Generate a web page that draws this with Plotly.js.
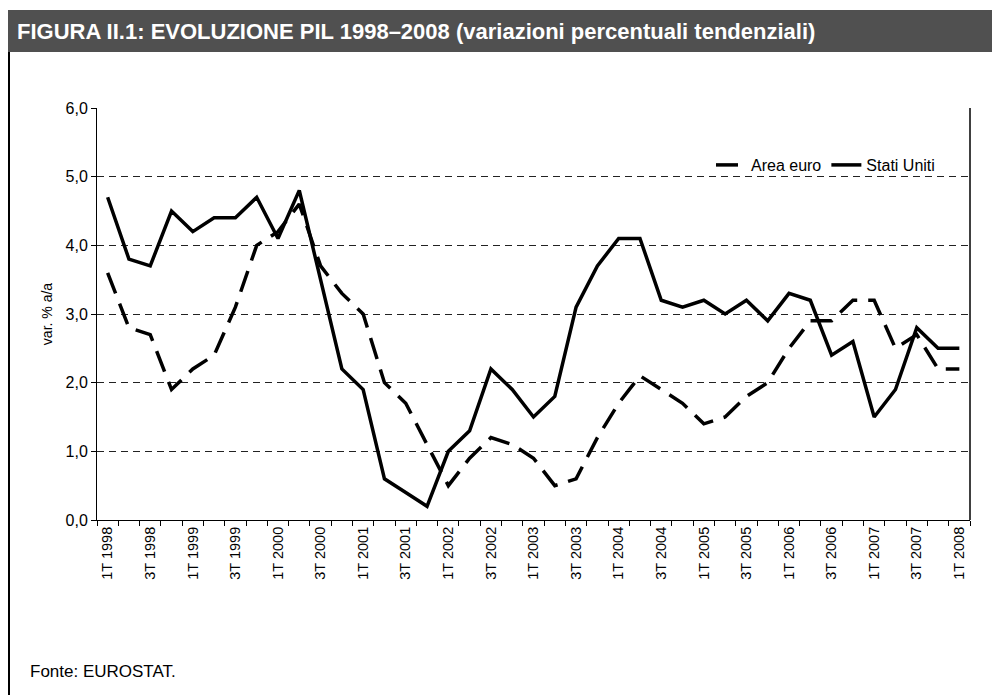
<!DOCTYPE html>
<html>
<head>
<meta charset="utf-8">
<script src="https://cdn.plot.ly/plotly-3.0.1.min.js"></script>
<style>html,body{margin:0;padding:0;background:#fff;}#chart{width:992px;height:695px;}</style>
</head>
<body>
<div id="chart"></div>
<script>
// ---- data ----
const quarters = [
  "1T 1998","2T 1998","3T 1998","4T 1998",
  "1T 1999","2T 1999","3T 1999","4T 1999",
  "1T 2000","2T 2000","3T 2000","4T 2000",
  "1T 2001","2T 2001","3T 2001","4T 2001",
  "1T 2002","2T 2002","3T 2002","4T 2002",
  "1T 2003","2T 2003","3T 2003","4T 2003",
  "1T 2004","2T 2004","3T 2004","4T 2004",
  "1T 2005","2T 2005","3T 2005","4T 2005",
  "1T 2006","2T 2006","3T 2006","4T 2006",
  "1T 2007","2T 2007","3T 2007","4T 2007",
  "1T 2008"
];
const areaEuro = [3.6,2.8,2.7,1.9,2.2,2.4,3.1,4.0,4.2,4.6,3.7,3.3,3.0,2.0,1.7,1.1,0.5,0.9,1.2,1.1,0.9,0.5,0.6,1.2,1.7,2.1,1.9,1.7,1.4,1.5,1.8,2.0,2.5,2.9,2.9,3.2,3.2,2.5,2.7,2.2,2.2];
const statiUniti = [4.7,3.8,3.7,4.5,4.2,4.4,4.4,4.7,4.1,4.8,3.5,2.2,1.9,0.6,0.4,0.2,1.0,1.3,2.2,1.9,1.5,1.8,3.1,3.7,4.1,4.1,3.2,3.1,3.2,3.0,3.2,2.9,3.3,3.2,2.4,2.6,1.5,1.9,2.8,2.5,2.5];
const yTicks = [0,1,2,3,4,5,6];
const seriesNames = ["Area euro","Stati Uniti"];
const titleText = "FIGURA II.1: EVOLUZIONE PIL 1998–2008 (variazioni percentuali tendenziali)";
const yTitle = "var. % a/a";
const sourceText = "Fonte: EUROSTAT.";

// ---- layout helpers ----
const W = 992, H = 695;
const L = 97, R = 970, T = 108, B = 520;
const px = x => (x - L) / (R - L);
const py = y => (B - y) / (B - T);

const idx = quarters.map((_, i) => i);
const shownIdx = idx.filter(i => i % 2 === 0);
const shownText = shownIdx.map(i => quarters[i]);

const FONT = "Liberation Sans, Arial, sans-serif";

const traces = [
  {x: idx, y: areaEuro, name: seriesNames[0], type: "scatter", mode: "lines",
   line: {color: "#000", width: 3.5, dash: "22px,11px"}},
  {x: idx, y: statiUniti, name: seriesNames[1], type: "scatter", mode: "lines",
   line: {color: "#000", width: 3.5}}
];

const layout = {
  width: W, height: H,
  margin: {l: L, r: W - R, t: T, b: H - B, pad: 0},
  paper_bgcolor: "#fff", plot_bgcolor: "#fff",
  separators: ",.",
  font: {family: FONT, color: "#000", size: 12},
  showlegend: true,
  title: {text: titleText, x: 17 / W, xanchor: "left", xref: "container",
          y: 1 - 31 / H, yanchor: "middle", yref: "container",
          font: {family: FONT, size: 22, color: "#fff", weight: "bold"}},
  xaxis: {
    range: [-0.5, 40.5], fixedrange: true,
    showgrid: false, zeroline: false,
    showline: true, linecolor: "#000", linewidth: 1,
    tickmode: "array", tickvals: shownIdx, ticktext: shownText,
    ticks: "", tickangle: -90, tickfont: {size: 14.5, family: FONT},
    minor: {tick0: 0.5, dtick: 1, ticks: "outside", ticklen: 5, tickcolor: "#000", tickwidth: 1, showgrid: false}
  },
  yaxis: {
    range: [0, 6], fixedrange: true,
    tickmode: "array", tickvals: yTicks, tickformat: ".1f",
    ticks: "outside", ticklen: 5, tickcolor: "#000",
    tickfont: {size: 16, family: FONT},
    showline: true, linecolor: "#000", linewidth: 1,
    showgrid: true, gridcolor: "#222", gridwidth: 1, griddash: "7px,5px",
    zeroline: false,
    title: {text: yTitle, standoff: 9, font: {size: 14, family: FONT}}
  },
  legend: {orientation: "h", x: px(940), xanchor: "right", y: py(165), yanchor: "middle",
           bgcolor: "rgba(0,0,0,0)", font: {size: 16, family: FONT}, itemwidth: 30,
           traceorder: "normal"},
  shapes: [
    // title bar
    {type: "rect", xref: "paper", yref: "paper", x0: px(8), x1: px(992), y0: py(10), y1: py(52),
     fillcolor: "#505050", line: {width: 0}, layer: "below"},
    // left frame line
    {type: "line", xref: "paper", yref: "paper", x0: px(9), x1: px(9), y0: py(52), y1: py(695),
     line: {color: "#000", width: 2}},
    // plot area right border
    {type: "line", xref: "paper", yref: "paper", x0: 1, x1: 1, y0: 0, y1: 1,
     line: {color: "#000", width: 1.5}}
  ],
  annotations: [
    {text: sourceText, xref: "paper", yref: "paper", x: px(28), y: py(671), xanchor: "left", yanchor: "middle",
     showarrow: false, font: {size: 17, family: FONT, color: "#000"}}
  ]
};

Plotly.newPlot("chart", traces, layout, {displayModeBar: false, staticPlot: true});
</script>
</body>
</html>
